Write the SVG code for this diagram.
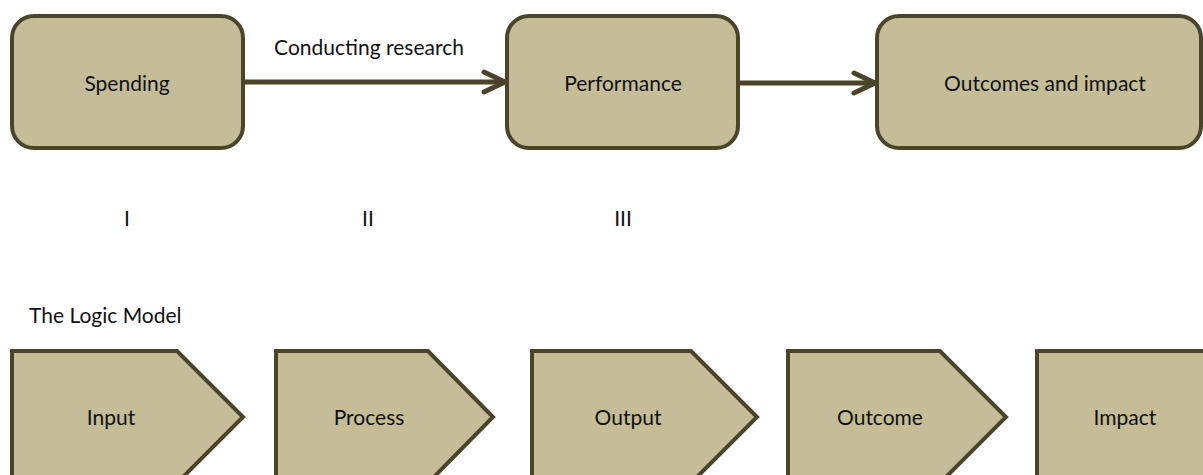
<svg xmlns="http://www.w3.org/2000/svg" width="1203" height="475" viewBox="0 0 1203 475">
<style>
.box{fill:#C4BD97;stroke:#4A452A;stroke-width:4}
.lbl{font-family:Lato,"Open Sans",sans-serif;font-size:21px;fill:#111;text-anchor:middle}
.plain{font-family:Lato,"Open Sans",sans-serif;font-size:21px;fill:#111}
.conn{stroke:#4A452A;stroke-width:5;fill:none}
</style>
<defs>
<marker id="chev" markerUnits="userSpaceOnUse" viewBox="-4 -4 28 28" markerWidth="28" markerHeight="28" refX="21" refY="10" orient="auto">
<path d="M0,0 L21,10 L0,20" fill="none" stroke="#4A452A" stroke-width="5" stroke-linecap="round" stroke-linejoin="round"/>
</marker>
</defs>
<rect width="1203" height="475" fill="#fff"/>
<g id="spending"><rect class="box" x="12" y="16" width="231" height="132" rx="22"/><text class="lbl" x="127" y="91">Spending</text></g>
<g id="performance"><rect class="box" x="507" y="16" width="231" height="132" rx="22"/><text class="lbl" x="623" y="91">Performance</text></g>
<g id="outcomes"><rect class="box" x="877" y="16" width="324" height="132" rx="22"/><text class="lbl" x="1045" y="91">Outcomes and impact</text></g>
<g id="connectors">
<line class="conn" x1="243" y1="82" x2="505" y2="82" marker-end="url(#chev)"/>
<line class="conn" x1="738" y1="83" x2="875" y2="83" marker-end="url(#chev)"/>
</g>
<text class="lbl" x="369" y="55">Conducting research</text>
<text class="lbl" x="127" y="226">I</text>
<text class="lbl" x="368" y="226">II</text>
<text class="lbl" x="623" y="226">III</text>
<text class="plain" x="29" y="323">The Logic Model</text>
<g id="input"><polygon class="box" points="12,351 177,351 243,417 177,483 12,483"/><text class="lbl" x="111" y="425">Input</text></g>
<g id="process"><polygon class="box" points="276,351 428,351 493,417 428,483 276,483"/><text class="lbl" x="369" y="425">Process</text></g>
<g id="output"><polygon class="box" points="532,351 691,351 757,417 691,483 532,483"/><text class="lbl" x="628" y="425">Output</text></g>
<g id="outcome"><polygon class="box" points="788,351 940,351 1006,417 940,483 788,483"/><text class="lbl" x="880" y="425">Outcome</text></g>
<g id="impact"><rect class="box" x="1037" y="351" width="180" height="140"/><text class="lbl" x="1125" y="425">Impact</text></g>
</svg>
